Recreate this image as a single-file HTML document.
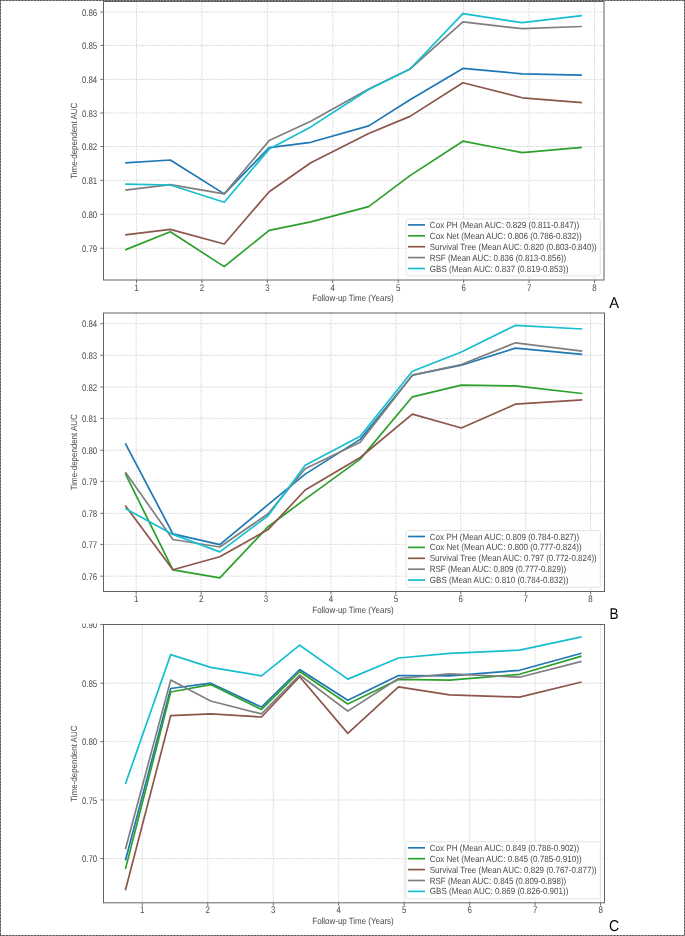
<!DOCTYPE html>
<html><head><meta charset="utf-8"><title>Time-dependent AUC</title>
<style>html,body{margin:0;padding:0;background:#fff;width:685px;height:936px;overflow:hidden;}
svg{display:block;font-family:"Liberation Sans",sans-serif;}
svg{will-change:transform;text-rendering:geometricPrecision;}</style></head>
<body>
<svg width="685" height="936" viewBox="0 0 685 936" font-family="'Liberation Sans', sans-serif">
<defs><clipPath id="clipC"><rect x="0" y="623.4" width="685" height="313"/></clipPath></defs>
<rect width="685" height="936" fill="#fff"/>
<g stroke="#d3d3d3" stroke-width="0.8" stroke-dasharray="2.2 1.0"><line x1="136.50" y1="1.5" x2="136.50" y2="280.0"/><line x1="201.93" y1="1.5" x2="201.93" y2="280.0"/><line x1="267.36" y1="1.5" x2="267.36" y2="280.0"/><line x1="332.79" y1="1.5" x2="332.79" y2="280.0"/><line x1="398.22" y1="1.5" x2="398.22" y2="280.0"/><line x1="463.65" y1="1.5" x2="463.65" y2="280.0"/><line x1="529.08" y1="1.5" x2="529.08" y2="280.0"/><line x1="594.51" y1="1.5" x2="594.51" y2="280.0"/><line x1="103.5" y1="12.00" x2="604.0" y2="12.00"/><line x1="103.5" y1="45.45" x2="604.0" y2="45.45"/><line x1="103.5" y1="79.40" x2="604.0" y2="79.40"/><line x1="103.5" y1="113.00" x2="604.0" y2="113.00"/><line x1="103.5" y1="146.50" x2="604.0" y2="146.50"/><line x1="103.5" y1="180.35" x2="604.0" y2="180.35"/><line x1="103.5" y1="214.30" x2="604.0" y2="214.30"/><line x1="103.5" y1="248.25" x2="604.0" y2="248.25"/></g>
<polyline points="125.2,162.9 170.3,160.0 224.2,193.9 269.2,147.6 310.8,142.3 368.7,125.9 410.0,99.8 462.9,68.4 522.2,73.8 581.9,75.2" fill="none" stroke="#1f77b4" stroke-width="1.7" stroke-linejoin="round" stroke-linecap="butt"/>
<polyline points="125.2,249.9 170.3,231.7 224.2,266.6 269.2,230.4 310.8,221.9 368.7,206.6 410.0,175.6 462.9,141.2 522.2,152.6 581.9,147.4" fill="none" stroke="#2ca02c" stroke-width="1.7" stroke-linejoin="round" stroke-linecap="butt"/>
<polyline points="125.2,234.8 170.3,229.4 224.2,244.0 269.2,191.7 310.8,162.8 368.7,133.5 410.0,116.4 462.9,82.7 522.2,97.8 581.9,102.6" fill="none" stroke="#8c564b" stroke-width="1.7" stroke-linejoin="round" stroke-linecap="butt"/>
<polyline points="125.2,190.2 170.3,184.7 224.2,193.9 269.2,140.6 310.8,121.2 368.7,88.9 410.0,69.0 462.9,21.9 522.2,28.7 581.9,26.5" fill="none" stroke="#7f7f7f" stroke-width="1.7" stroke-linejoin="round" stroke-linecap="butt"/>
<polyline points="125.2,184.1 170.3,185.0 224.2,202.3 269.2,149.1 310.8,126.9 368.7,89.5 410.0,69.0 462.9,13.7 522.2,22.7 581.9,15.7" fill="none" stroke="#17becf" stroke-width="1.7" stroke-linejoin="round" stroke-linecap="butt"/>
<rect x="103.5" y="1.5" width="500.5" height="278.5" fill="none" stroke="#636363" stroke-width="1"/>
<g stroke="#636363" stroke-width="0.9"><line x1="136.50" y1="280.0" x2="136.50" y2="283.0"/><line x1="201.93" y1="280.0" x2="201.93" y2="283.0"/><line x1="267.36" y1="280.0" x2="267.36" y2="283.0"/><line x1="332.79" y1="280.0" x2="332.79" y2="283.0"/><line x1="398.22" y1="280.0" x2="398.22" y2="283.0"/><line x1="463.65" y1="280.0" x2="463.65" y2="283.0"/><line x1="529.08" y1="280.0" x2="529.08" y2="283.0"/><line x1="594.51" y1="280.0" x2="594.51" y2="283.0"/><line x1="100.3" y1="12.00" x2="103.5" y2="12.00"/><line x1="100.3" y1="45.45" x2="103.5" y2="45.45"/><line x1="100.3" y1="79.40" x2="103.5" y2="79.40"/><line x1="100.3" y1="113.00" x2="103.5" y2="113.00"/><line x1="100.3" y1="146.50" x2="103.5" y2="146.50"/><line x1="100.3" y1="180.35" x2="103.5" y2="180.35"/><line x1="100.3" y1="214.30" x2="103.5" y2="214.30"/><line x1="100.3" y1="248.25" x2="103.5" y2="248.25"/></g>
<text x="134.30" y="290.60" font-size="9.6" textLength="4.40" lengthAdjust="spacingAndGlyphs" fill="#4a4a4a" >1</text>
<text x="199.73" y="290.60" font-size="9.6" textLength="4.40" lengthAdjust="spacingAndGlyphs" fill="#4a4a4a" >2</text>
<text x="265.16" y="290.60" font-size="9.6" textLength="4.40" lengthAdjust="spacingAndGlyphs" fill="#4a4a4a" >3</text>
<text x="330.59" y="290.60" font-size="9.6" textLength="4.40" lengthAdjust="spacingAndGlyphs" fill="#4a4a4a" >4</text>
<text x="396.02" y="290.60" font-size="9.6" textLength="4.40" lengthAdjust="spacingAndGlyphs" fill="#4a4a4a" >5</text>
<text x="461.45" y="290.60" font-size="9.6" textLength="4.40" lengthAdjust="spacingAndGlyphs" fill="#4a4a4a" >6</text>
<text x="526.88" y="290.60" font-size="9.6" textLength="4.40" lengthAdjust="spacingAndGlyphs" fill="#4a4a4a" >7</text>
<text x="592.31" y="290.60" font-size="9.6" textLength="4.40" lengthAdjust="spacingAndGlyphs" fill="#4a4a4a" >8</text>
<text x="81.90" y="15.70" font-size="9.6" textLength="15.30" lengthAdjust="spacingAndGlyphs" fill="#4a4a4a" >0.86</text>
<text x="81.90" y="49.15" font-size="9.6" textLength="15.30" lengthAdjust="spacingAndGlyphs" fill="#4a4a4a" >0.85</text>
<text x="81.90" y="83.10" font-size="9.6" textLength="15.30" lengthAdjust="spacingAndGlyphs" fill="#4a4a4a" >0.84</text>
<text x="81.90" y="116.70" font-size="9.6" textLength="15.30" lengthAdjust="spacingAndGlyphs" fill="#4a4a4a" >0.83</text>
<text x="81.90" y="150.20" font-size="9.6" textLength="15.30" lengthAdjust="spacingAndGlyphs" fill="#4a4a4a" >0.82</text>
<text x="81.90" y="184.05" font-size="9.6" textLength="15.30" lengthAdjust="spacingAndGlyphs" fill="#4a4a4a" >0.81</text>
<text x="81.90" y="218.00" font-size="9.6" textLength="15.30" lengthAdjust="spacingAndGlyphs" fill="#4a4a4a" >0.80</text>
<text x="81.90" y="251.95" font-size="9.6" textLength="15.30" lengthAdjust="spacingAndGlyphs" fill="#4a4a4a" >0.79</text>
<text x="312.29" y="301.40" font-size="8.93" textLength="81.41" lengthAdjust="spacingAndGlyphs" fill="#4a4a4a" >Follow-up Time (Years)</text>
<text transform="translate(77.0,140.75) rotate(-90) scale(0.89,1)" x="0" y="0" text-anchor="middle" font-size="8.93" fill="#4a4a4a">Time-dependent AUC</text>
<rect x="406.1" y="218.9" width="194.19999999999993" height="56.99999999999997" rx="1.8" fill="#ffffff" fill-opacity="0.85" stroke="#e0e0e0" stroke-width="0.9"/>
<line x1="408.1" y1="224.90" x2="425.0" y2="224.90" stroke="#1f77b4" stroke-width="1.7"/>
<text x="429.80" y="227.90" font-size="8.93" textLength="149.40" lengthAdjust="spacingAndGlyphs" fill="#4a4a4a" >Cox PH (Mean AUC: 0.829 (0.811-0.847))</text>
<line x1="408.1" y1="235.80" x2="425.0" y2="235.80" stroke="#2ca02c" stroke-width="1.7"/>
<text x="429.80" y="238.80" font-size="8.93" textLength="151.80" lengthAdjust="spacingAndGlyphs" fill="#4a4a4a" >Cox Net (Mean AUC: 0.806 (0.786-0.832))</text>
<line x1="408.1" y1="246.70" x2="425.0" y2="246.70" stroke="#8c564b" stroke-width="1.7"/>
<text x="429.80" y="249.70" font-size="8.93" textLength="166.90" lengthAdjust="spacingAndGlyphs" fill="#4a4a4a" >Survival Tree (Mean AUC: 0.820 (0.803-0.840))</text>
<line x1="408.1" y1="257.60" x2="425.0" y2="257.60" stroke="#7f7f7f" stroke-width="1.7"/>
<text x="429.80" y="260.60" font-size="8.93" textLength="136.40" lengthAdjust="spacingAndGlyphs" fill="#4a4a4a" >RSF (Mean AUC: 0.836 (0.813-0.856))</text>
<line x1="408.1" y1="268.50" x2="425.0" y2="268.50" stroke="#17becf" stroke-width="1.7"/>
<text x="429.80" y="271.50" font-size="8.93" textLength="138.60" lengthAdjust="spacingAndGlyphs" fill="#4a4a4a" >GBS (Mean AUC: 0.837 (0.819-0.853))</text>
<text x="609.2" y="307.9" font-size="15.6" textLength="9.8" lengthAdjust="spacingAndGlyphs" fill="#000">A</text>
<g stroke="#d3d3d3" stroke-width="0.8" stroke-dasharray="2.2 1.0"><line x1="136.20" y1="313.0" x2="136.20" y2="591.5"/><line x1="201.11" y1="313.0" x2="201.11" y2="591.5"/><line x1="266.02" y1="313.0" x2="266.02" y2="591.5"/><line x1="330.93" y1="313.0" x2="330.93" y2="591.5"/><line x1="395.84" y1="313.0" x2="395.84" y2="591.5"/><line x1="460.75" y1="313.0" x2="460.75" y2="591.5"/><line x1="525.66" y1="313.0" x2="525.66" y2="591.5"/><line x1="590.57" y1="313.0" x2="590.57" y2="591.5"/><line x1="103.5" y1="323.70" x2="604.5" y2="323.70"/><line x1="103.5" y1="355.25" x2="604.5" y2="355.25"/><line x1="103.5" y1="387.05" x2="604.5" y2="387.05"/><line x1="103.5" y1="418.40" x2="604.5" y2="418.40"/><line x1="103.5" y1="450.25" x2="604.5" y2="450.25"/><line x1="103.5" y1="481.35" x2="604.5" y2="481.35"/><line x1="103.5" y1="513.30" x2="604.5" y2="513.30"/><line x1="103.5" y1="544.40" x2="604.5" y2="544.40"/><line x1="103.5" y1="576.20" x2="604.5" y2="576.20"/></g>
<polyline points="125.3,443.3 172.9,533.9 219.8,544.6 268.1,504.6 305.2,474.1 360.2,439.4 412.4,375.2 461.4,365.2 515.4,348.1 582.3,354.3" fill="none" stroke="#1f77b4" stroke-width="1.7" stroke-linejoin="round" stroke-linecap="butt"/>
<polyline points="125.3,473.7 172.9,569.8 219.8,577.9 268.1,526.7 305.2,499.1 360.2,459.1 412.4,396.8 461.4,385.2 515.4,385.9 582.3,393.5" fill="none" stroke="#2ca02c" stroke-width="1.7" stroke-linejoin="round" stroke-linecap="butt"/>
<polyline points="125.3,505.6 172.9,569.8 219.8,556.8 268.1,529.6 305.2,490.0 360.2,457.5 412.4,414.1 461.4,428.0 515.4,404.2 582.3,399.9" fill="none" stroke="#8c564b" stroke-width="1.7" stroke-linejoin="round" stroke-linecap="butt"/>
<polyline points="125.3,472.0 172.9,539.5 219.8,547.0 268.1,513.8 305.2,468.8 360.2,442.3 412.4,375.2 461.4,364.5 515.4,342.8 582.3,351.1" fill="none" stroke="#7f7f7f" stroke-width="1.7" stroke-linejoin="round" stroke-linecap="butt"/>
<polyline points="125.3,508.5 172.9,534.4 219.8,551.9 268.1,515.7 305.2,465.2 360.2,436.3 412.4,371.3 461.4,352.0 515.4,325.4 582.3,329.0" fill="none" stroke="#17becf" stroke-width="1.7" stroke-linejoin="round" stroke-linecap="butt"/>
<rect x="103.5" y="313.0" width="501.0" height="278.5" fill="none" stroke="#636363" stroke-width="1"/>
<g stroke="#636363" stroke-width="0.9"><line x1="136.20" y1="591.5" x2="136.20" y2="594.5"/><line x1="201.11" y1="591.5" x2="201.11" y2="594.5"/><line x1="266.02" y1="591.5" x2="266.02" y2="594.5"/><line x1="330.93" y1="591.5" x2="330.93" y2="594.5"/><line x1="395.84" y1="591.5" x2="395.84" y2="594.5"/><line x1="460.75" y1="591.5" x2="460.75" y2="594.5"/><line x1="525.66" y1="591.5" x2="525.66" y2="594.5"/><line x1="590.57" y1="591.5" x2="590.57" y2="594.5"/><line x1="100.3" y1="323.70" x2="103.5" y2="323.70"/><line x1="100.3" y1="355.25" x2="103.5" y2="355.25"/><line x1="100.3" y1="387.05" x2="103.5" y2="387.05"/><line x1="100.3" y1="418.40" x2="103.5" y2="418.40"/><line x1="100.3" y1="450.25" x2="103.5" y2="450.25"/><line x1="100.3" y1="481.35" x2="103.5" y2="481.35"/><line x1="100.3" y1="513.30" x2="103.5" y2="513.30"/><line x1="100.3" y1="544.40" x2="103.5" y2="544.40"/><line x1="100.3" y1="576.20" x2="103.5" y2="576.20"/></g>
<text x="134.00" y="602.10" font-size="9.6" textLength="4.40" lengthAdjust="spacingAndGlyphs" fill="#4a4a4a" >1</text>
<text x="198.91" y="602.10" font-size="9.6" textLength="4.40" lengthAdjust="spacingAndGlyphs" fill="#4a4a4a" >2</text>
<text x="263.82" y="602.10" font-size="9.6" textLength="4.40" lengthAdjust="spacingAndGlyphs" fill="#4a4a4a" >3</text>
<text x="328.73" y="602.10" font-size="9.6" textLength="4.40" lengthAdjust="spacingAndGlyphs" fill="#4a4a4a" >4</text>
<text x="393.64" y="602.10" font-size="9.6" textLength="4.40" lengthAdjust="spacingAndGlyphs" fill="#4a4a4a" >5</text>
<text x="458.55" y="602.10" font-size="9.6" textLength="4.40" lengthAdjust="spacingAndGlyphs" fill="#4a4a4a" >6</text>
<text x="523.46" y="602.10" font-size="9.6" textLength="4.40" lengthAdjust="spacingAndGlyphs" fill="#4a4a4a" >7</text>
<text x="588.37" y="602.10" font-size="9.6" textLength="4.40" lengthAdjust="spacingAndGlyphs" fill="#4a4a4a" >8</text>
<text x="81.90" y="327.40" font-size="9.6" textLength="15.30" lengthAdjust="spacingAndGlyphs" fill="#4a4a4a" >0.84</text>
<text x="81.90" y="358.95" font-size="9.6" textLength="15.30" lengthAdjust="spacingAndGlyphs" fill="#4a4a4a" >0.83</text>
<text x="81.90" y="390.75" font-size="9.6" textLength="15.30" lengthAdjust="spacingAndGlyphs" fill="#4a4a4a" >0.82</text>
<text x="81.90" y="422.10" font-size="9.6" textLength="15.30" lengthAdjust="spacingAndGlyphs" fill="#4a4a4a" >0.81</text>
<text x="81.90" y="453.95" font-size="9.6" textLength="15.30" lengthAdjust="spacingAndGlyphs" fill="#4a4a4a" >0.80</text>
<text x="81.90" y="485.05" font-size="9.6" textLength="15.30" lengthAdjust="spacingAndGlyphs" fill="#4a4a4a" >0.79</text>
<text x="81.90" y="517.00" font-size="9.6" textLength="15.30" lengthAdjust="spacingAndGlyphs" fill="#4a4a4a" >0.78</text>
<text x="81.90" y="548.10" font-size="9.6" textLength="15.30" lengthAdjust="spacingAndGlyphs" fill="#4a4a4a" >0.77</text>
<text x="81.90" y="579.90" font-size="9.6" textLength="15.30" lengthAdjust="spacingAndGlyphs" fill="#4a4a4a" >0.76</text>
<text x="312.29" y="612.90" font-size="8.93" textLength="81.41" lengthAdjust="spacingAndGlyphs" fill="#4a4a4a" >Follow-up Time (Years)</text>
<text transform="translate(77.0,452.25) rotate(-90) scale(0.89,1)" x="0" y="0" text-anchor="middle" font-size="8.93" fill="#4a4a4a">Time-dependent AUC</text>
<rect x="406.1" y="530.5" width="194.19999999999993" height="56.799999999999955" rx="1.8" fill="#ffffff" fill-opacity="0.85" stroke="#e0e0e0" stroke-width="0.9"/>
<line x1="408.1" y1="536.50" x2="425.0" y2="536.50" stroke="#1f77b4" stroke-width="1.7"/>
<text x="429.80" y="539.50" font-size="8.93" textLength="149.40" lengthAdjust="spacingAndGlyphs" fill="#4a4a4a" >Cox PH (Mean AUC: 0.809 (0.784-0.827))</text>
<line x1="408.1" y1="547.40" x2="425.0" y2="547.40" stroke="#2ca02c" stroke-width="1.7"/>
<text x="429.80" y="550.40" font-size="8.93" textLength="151.80" lengthAdjust="spacingAndGlyphs" fill="#4a4a4a" >Cox Net (Mean AUC: 0.800 (0.777-0.824))</text>
<line x1="408.1" y1="558.30" x2="425.0" y2="558.30" stroke="#8c564b" stroke-width="1.7"/>
<text x="429.80" y="561.30" font-size="8.93" textLength="166.90" lengthAdjust="spacingAndGlyphs" fill="#4a4a4a" >Survival Tree (Mean AUC: 0.797 (0.772-0.824))</text>
<line x1="408.1" y1="569.20" x2="425.0" y2="569.20" stroke="#7f7f7f" stroke-width="1.7"/>
<text x="429.80" y="572.20" font-size="8.93" textLength="136.40" lengthAdjust="spacingAndGlyphs" fill="#4a4a4a" >RSF (Mean AUC: 0.809 (0.777-0.829))</text>
<line x1="408.1" y1="580.10" x2="425.0" y2="580.10" stroke="#17becf" stroke-width="1.7"/>
<text x="429.80" y="583.10" font-size="8.93" textLength="138.60" lengthAdjust="spacingAndGlyphs" fill="#4a4a4a" >GBS (Mean AUC: 0.810 (0.784-0.832))</text>
<text x="609.5" y="619.1" font-size="15.6" textLength="9.0" lengthAdjust="spacingAndGlyphs" fill="#000">B</text>
<g clip-path="url(#clipC)">
<g stroke="#d3d3d3" stroke-width="0.8" stroke-dasharray="2.2 1.0"><line x1="142.30" y1="624.5" x2="142.30" y2="902.8"/><line x1="207.77" y1="624.5" x2="207.77" y2="902.8"/><line x1="273.24" y1="624.5" x2="273.24" y2="902.8"/><line x1="338.71" y1="624.5" x2="338.71" y2="902.8"/><line x1="404.18" y1="624.5" x2="404.18" y2="902.8"/><line x1="469.65" y1="624.5" x2="469.65" y2="902.8"/><line x1="535.12" y1="624.5" x2="535.12" y2="902.8"/><line x1="600.59" y1="624.5" x2="600.59" y2="902.8"/><line x1="103.5" y1="624.50" x2="604.5" y2="624.50"/><line x1="103.5" y1="683.20" x2="604.5" y2="683.20"/><line x1="103.5" y1="741.60" x2="604.5" y2="741.60"/><line x1="103.5" y1="799.95" x2="604.5" y2="799.95"/><line x1="103.5" y1="858.50" x2="604.5" y2="858.50"/></g>
<polyline points="125.4,860.5 170.7,688.5 210.7,683.2 261.5,707.1 299.7,669.5 347.8,700.2 398.5,675.5 449.5,675.9 519.5,670.3 581.6,653.2" fill="none" stroke="#1f77b4" stroke-width="1.7" stroke-linejoin="round" stroke-linecap="butt"/>
<polyline points="125.4,869.1 170.7,692.0 210.7,684.6 261.5,709.4 299.7,671.5 347.8,704.0 398.5,679.4 449.5,680.2 519.5,674.3 581.6,656.1" fill="none" stroke="#2ca02c" stroke-width="1.7" stroke-linejoin="round" stroke-linecap="butt"/>
<polyline points="125.4,890.3 170.7,715.7 210.7,713.8 261.5,717.0 299.7,676.7 347.8,733.4 398.5,686.9 449.5,694.8 519.5,697.1 581.6,682.0" fill="none" stroke="#8c564b" stroke-width="1.7" stroke-linejoin="round" stroke-linecap="butt"/>
<polyline points="125.4,849.2 170.7,680.1 210.7,701.0 261.5,713.9 299.7,675.0 347.8,711.1 398.5,678.5 449.5,673.8 519.5,677.2 581.6,661.4" fill="none" stroke="#7f7f7f" stroke-width="1.7" stroke-linejoin="round" stroke-linecap="butt"/>
<polyline points="125.4,784.0 170.7,654.6 210.7,667.4 261.5,675.9 299.7,645.2 347.8,679.1 398.5,658.0 449.5,653.4 519.5,650.2 581.6,636.8" fill="none" stroke="#17becf" stroke-width="1.7" stroke-linejoin="round" stroke-linecap="butt"/>
<rect x="103.5" y="624.5" width="501.0" height="278.29999999999995" fill="none" stroke="#636363" stroke-width="1"/>
<g stroke="#636363" stroke-width="0.9"><line x1="142.30" y1="902.8" x2="142.30" y2="905.8"/><line x1="207.77" y1="902.8" x2="207.77" y2="905.8"/><line x1="273.24" y1="902.8" x2="273.24" y2="905.8"/><line x1="338.71" y1="902.8" x2="338.71" y2="905.8"/><line x1="404.18" y1="902.8" x2="404.18" y2="905.8"/><line x1="469.65" y1="902.8" x2="469.65" y2="905.8"/><line x1="535.12" y1="902.8" x2="535.12" y2="905.8"/><line x1="600.59" y1="902.8" x2="600.59" y2="905.8"/><line x1="100.3" y1="624.50" x2="103.5" y2="624.50"/><line x1="100.3" y1="683.20" x2="103.5" y2="683.20"/><line x1="100.3" y1="741.60" x2="103.5" y2="741.60"/><line x1="100.3" y1="799.95" x2="103.5" y2="799.95"/><line x1="100.3" y1="858.50" x2="103.5" y2="858.50"/></g>
<text x="140.10" y="913.40" font-size="9.6" textLength="4.40" lengthAdjust="spacingAndGlyphs" fill="#4a4a4a" >1</text>
<text x="205.57" y="913.40" font-size="9.6" textLength="4.40" lengthAdjust="spacingAndGlyphs" fill="#4a4a4a" >2</text>
<text x="271.04" y="913.40" font-size="9.6" textLength="4.40" lengthAdjust="spacingAndGlyphs" fill="#4a4a4a" >3</text>
<text x="336.51" y="913.40" font-size="9.6" textLength="4.40" lengthAdjust="spacingAndGlyphs" fill="#4a4a4a" >4</text>
<text x="401.98" y="913.40" font-size="9.6" textLength="4.40" lengthAdjust="spacingAndGlyphs" fill="#4a4a4a" >5</text>
<text x="467.45" y="913.40" font-size="9.6" textLength="4.40" lengthAdjust="spacingAndGlyphs" fill="#4a4a4a" >6</text>
<text x="532.92" y="913.40" font-size="9.6" textLength="4.40" lengthAdjust="spacingAndGlyphs" fill="#4a4a4a" >7</text>
<text x="598.39" y="913.40" font-size="9.6" textLength="4.40" lengthAdjust="spacingAndGlyphs" fill="#4a4a4a" >8</text>
<text x="81.90" y="628.20" font-size="9.6" textLength="15.30" lengthAdjust="spacingAndGlyphs" fill="#4a4a4a" >0.90</text>
<text x="81.90" y="686.90" font-size="9.6" textLength="15.30" lengthAdjust="spacingAndGlyphs" fill="#4a4a4a" >0.85</text>
<text x="81.90" y="745.30" font-size="9.6" textLength="15.30" lengthAdjust="spacingAndGlyphs" fill="#4a4a4a" >0.80</text>
<text x="81.90" y="803.65" font-size="9.6" textLength="15.30" lengthAdjust="spacingAndGlyphs" fill="#4a4a4a" >0.75</text>
<text x="81.90" y="862.20" font-size="9.6" textLength="15.30" lengthAdjust="spacingAndGlyphs" fill="#4a4a4a" >0.70</text>
<text x="312.29" y="924.20" font-size="8.93" textLength="81.41" lengthAdjust="spacingAndGlyphs" fill="#4a4a4a" >Follow-up Time (Years)</text>
<text transform="translate(77.0,763.65) rotate(-90) scale(0.89,1)" x="0" y="0" text-anchor="middle" font-size="8.93" fill="#4a4a4a">Time-dependent AUC</text>
<rect x="406.1" y="841.8" width="194.19999999999993" height="57.0" rx="1.8" fill="#ffffff" fill-opacity="0.85" stroke="#e0e0e0" stroke-width="0.9"/>
<line x1="408.1" y1="847.80" x2="425.0" y2="847.80" stroke="#1f77b4" stroke-width="1.7"/>
<text x="429.80" y="850.80" font-size="8.93" textLength="149.40" lengthAdjust="spacingAndGlyphs" fill="#4a4a4a" >Cox PH (Mean AUC: 0.849 (0.788-0.902))</text>
<line x1="408.1" y1="858.70" x2="425.0" y2="858.70" stroke="#2ca02c" stroke-width="1.7"/>
<text x="429.80" y="861.70" font-size="8.93" textLength="151.80" lengthAdjust="spacingAndGlyphs" fill="#4a4a4a" >Cox Net (Mean AUC: 0.845 (0.785-0.910))</text>
<line x1="408.1" y1="869.60" x2="425.0" y2="869.60" stroke="#8c564b" stroke-width="1.7"/>
<text x="429.80" y="872.60" font-size="8.93" textLength="166.90" lengthAdjust="spacingAndGlyphs" fill="#4a4a4a" >Survival Tree (Mean AUC: 0.829 (0.767-0.877))</text>
<line x1="408.1" y1="880.50" x2="425.0" y2="880.50" stroke="#7f7f7f" stroke-width="1.7"/>
<text x="429.80" y="883.50" font-size="8.93" textLength="136.40" lengthAdjust="spacingAndGlyphs" fill="#4a4a4a" >RSF (Mean AUC: 0.845 (0.809-0.898))</text>
<line x1="408.1" y1="891.40" x2="425.0" y2="891.40" stroke="#17becf" stroke-width="1.7"/>
<text x="429.80" y="894.40" font-size="8.93" textLength="138.60" lengthAdjust="spacingAndGlyphs" fill="#4a4a4a" >GBS (Mean AUC: 0.869 (0.826-0.901))</text>
</g>
<text x="608.9" y="930.7" font-size="15.6" textLength="10.2" lengthAdjust="spacingAndGlyphs" fill="#000">C</text>
<g stroke="#9c9c9c" stroke-width="1" fill="none"><line x1="0" y1="0.5" x2="685" y2="0.5"/><line x1="0.5" y1="0" x2="0.5" y2="936"/><line x1="684.5" y1="0" x2="684.5" y2="936"/><line x1="0" y1="935.5" x2="685" y2="935.5"/></g>
<g stroke="#505050" stroke-width="1" stroke-dasharray="1.6 1.5" fill="none"><line x1="0" y1="0.5" x2="685" y2="0.5"/><line x1="0.5" y1="0" x2="0.5" y2="936"/><line x1="684.5" y1="0" x2="684.5" y2="936"/><line x1="0" y1="935.5" x2="685" y2="935.5"/></g>
</svg>
</body></html>
